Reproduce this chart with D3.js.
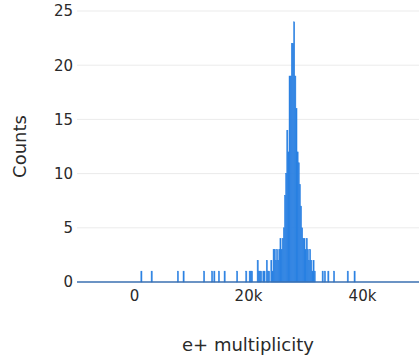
<!DOCTYPE html>
<html>
<head>
<meta charset="utf-8">
<script src="https://cdn.jsdelivr.net/npm/d3@7"></script>
<style>
  body { margin: 0; background: #fff; }
  text { font-family: "DejaVu Sans", Verdana, sans-serif; fill: #2a2a2a; }
</style>
</head>
<body>
<svg id="chart"></svg>
<script>
// histogram bins (start of bin, e+ multiplicity) and counts
var binSize = 200;
var binStarts = [
    1200, 3000, 7600, 8600, 12200, 13600, 14000, 14800, 15800, 18000, 19600,
    20200, 20400, 20600, 21600, 21800, 22000, 22200, 22600, 22800,
    23200, 23400, 23600, 24000, 24200, 24400, 24600, 24800, 25000, 25200,
    25400, 25600, 25800, 26000, 26200, 26400, 26600, 26800, 27000, 27200,
    27400, 27600, 27800, 28000, 28200, 28400, 28600, 28800, 29000, 29200,
    29400, 29600, 29800, 30000, 30200, 30400, 30600, 30800, 31000, 31200,
    31400, 31600, 33000, 33400, 34000, 35000, 37400, 38600
];
var counts = [
    1, 1, 1, 1, 1, 1, 1, 1, 1, 1, 1,
    1, 1, 1, 2, 1, 1, 1, 1, 1,
    2, 1, 1, 2, 1, 3, 3, 2, 3, 2,
    3, 4, 3, 4, 5, 8, 10, 14, 12, 19,
    19, 22, 22, 24, 19, 16, 12, 11, 9, 7,
    5, 4, 4, 3, 4, 3, 2, 3, 2, 1,
    2, 1, 1, 1, 1, 1, 1, 1
];
var xTicks = [0, 20000, 40000];
var xTickLabels = ["0", "20k", "40k"];
var yTicks = [0, 5, 10, 15, 20, 25];

var width = 419, height = 357;
var plotLeft = 77, plotRight = 419, plotTop = 11, plotBottom = 282;

var svg = d3.select("#chart")
    .attr("width", width)
    .attr("height", height);

var x = d3.scaleLinear()
    .domain([-10000, 50000])
    .range([plotLeft, plotRight]);

var y = d3.scaleLinear()
    .domain([0, 25])
    .range([plotBottom, plotTop]);

// grid lines
svg.append("g")
    .selectAll("line")
    .data(yTicks.slice(1))
    .enter()
    .append("line")
    .attr("x1", plotLeft)
    .attr("x2", plotRight)
    .attr("y1", function(d){ return y(d); })
    .attr("y2", function(d){ return y(d); })
    .attr("stroke", "#ebebeb")
    .attr("stroke-width", 1);

// bars
svg.append("g")
    .selectAll("rect")
    .data(binStarts)
    .enter()
    .append("rect")
    .attr("x", function(d){ return x(d); })
    .attr("width", function(d){ return x(d + binSize) - x(d); })
    .attr("y", function(d, i){ return y(counts[i]); })
    .attr("height", function(d, i){ return y(0) - y(counts[i]); })
    .attr("fill", "#2a80e2")
    .attr("stroke", "#2a80e2")
    .attr("stroke-width", 0.5);

// zero line
svg.append("line")
    .attr("x1", plotLeft)
    .attr("x2", plotRight)
    .attr("y1", y(0))
    .attr("y2", y(0))
    .attr("stroke", "#3a6fb0")
    .attr("stroke-width", 1.5);

// y axis
var yAxis = d3.axisLeft(y)
    .tickValues(yTicks)
    .tickSize(0)
    .tickPadding(4);

svg.append("g")
    .attr("transform", "translate(" + plotLeft + ",0)")
    .call(yAxis)
    .call(function(g){ g.select(".domain").remove(); })
    .selectAll("text")
    .style("font-size", "15px")
    .attr("font-family", null);

// x axis
var xAxis = d3.axisBottom(x)
    .tickValues(xTicks)
    .tickFormat(function(d, i){ return xTickLabels[i]; })
    .tickSize(0)
    .tickPadding(8);

svg.append("g")
    .attr("transform", "translate(0," + plotBottom + ")")
    .call(xAxis)
    .call(function(g){ g.select(".domain").remove(); })
    .selectAll("text")
    .style("font-size", "15px")
    .attr("font-family", null);

svg.append("text")
    .text("e+ multiplicity")
    .attr("x", (plotLeft + plotRight) / 2)
    .attr("y", 351)
    .attr("text-anchor", "middle")
    .style("font-size", "18px");

svg.append("text")
    .text("Counts")
    .attr("transform", "translate(26," + ((plotTop + plotBottom) / 2) + ") rotate(-90)")
    .attr("text-anchor", "middle")
    .style("font-size", "18px");
</script>
</body>
</html>
